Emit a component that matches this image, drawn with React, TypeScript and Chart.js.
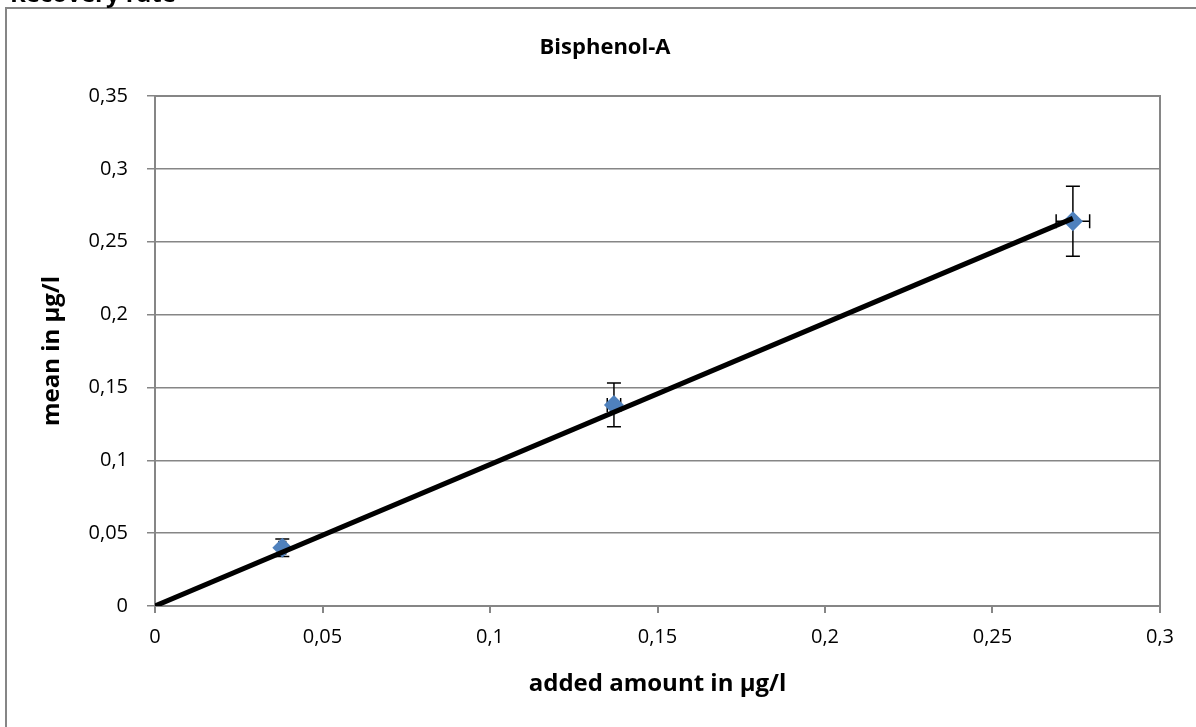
import React, { useEffect, useRef } from "react";
import { Chart, registerables } from "chart.js";

Chart.register(...registerables);

const chartTitle = "Bisphenol-A";
const pageTitle = "Recovery rate";
const xAxisTitle = "added amount in µg/l";
const yAxisTitle = "mean in µg/l";

const addedAmount = [0.038, 0.137, 0.274];
const meanValues = [0.040, 0.138, 0.264];
const yErrors = [0.006, 0.015, 0.024];
const xErrors = [0.001, 0.002, 0.005];

const trendX = [0, 0.274];
const trendY = [0, 0.266];

const xMin = 0;
const xMax = 0.3;
const yMin = 0;
const yMax = 0.35;
const tickStep = 0.05;

const FONT = "'Open Sans', Lato, sans-serif";

const fmt = (v: number) => {
  const r = Math.round(v * 1000) / 1000;
  return String(r).replace(".", ",");
};

export default function App() {
  const ref = useRef<HTMLCanvasElement | null>(null);

  useEffect(() => {
    if (!ref.current) return;

    const errorBars = {
      id: "errorBars",
      beforeDatasetsDraw(chart: any) {
        const { ctx, scales } = chart;
        const xs = scales.x;
        const ys = scales.y;
        ctx.save();
        ctx.strokeStyle = "#000";
        ctx.lineWidth = 1.5;
        const cap = 7;
        addedAmount.forEach((xv, i) => {
          const px = xs.getPixelForValue(xv);
          const py = ys.getPixelForValue(meanValues[i]);
          const y1 = ys.getPixelForValue(meanValues[i] + yErrors[i]);
          const y2 = ys.getPixelForValue(meanValues[i] - yErrors[i]);
          const x1 = xs.getPixelForValue(xv - xErrors[i]);
          const x2 = xs.getPixelForValue(xv + xErrors[i]);
          ctx.beginPath();
          ctx.moveTo(px, y1);
          ctx.lineTo(px, y2);
          ctx.moveTo(px - cap, y1);
          ctx.lineTo(px + cap, y1);
          ctx.moveTo(px - cap, y2);
          ctx.lineTo(px + cap, y2);
          ctx.moveTo(x1, py);
          ctx.lineTo(x2, py);
          ctx.moveTo(x1, py - cap);
          ctx.lineTo(x1, py + cap);
          ctx.moveTo(x2, py - cap);
          ctx.lineTo(x2, py + cap);
          ctx.stroke();
        });
        ctx.restore();
      },
    };

    const decorations = {
      id: "decorations",
      beforeDraw(chart: any) {
        const { ctx, width, height } = chart;
        ctx.save();
        ctx.fillStyle = "#fff";
        ctx.fillRect(0, 0, width, height);
        ctx.restore();
      },
      afterDraw(chart: any) {
        const { ctx } = chart;
        ctx.save();
        ctx.strokeStyle = "#868686";
        ctx.lineWidth = 2;
        ctx.beginPath();
        ctx.moveTo(6, 740);
        ctx.lineTo(6, 8);
        ctx.lineTo(1210, 8);
        ctx.stroke();
        const ca = chart.chartArea;
        ctx.beginPath();
        ctx.moveTo(ca.left, ca.top);
        ctx.lineTo(ca.right, ca.top);
        ctx.lineTo(ca.right, ca.bottom);
        ctx.stroke();
        ctx.fillStyle = "#000";
        ctx.font = "bold 24px " + FONT;
        ctx.textBaseline = "alphabetic";
        ctx.textAlign = "left";
        ctx.fillText(pageTitle, 10, 2);
        ctx.font = "bold 22px " + FONT;
        ctx.textAlign = "center";
        ctx.textBaseline = "middle";
        ctx.fillText(chartTitle, 605, 48);
        ctx.restore();
      },
    };

    const chart = new Chart(ref.current, {
      type: "scatter",
      data: {
        datasets: [
          {
            type: "scatter",
            label: "mean",
            data: addedAmount.map((x, i) => ({ x, y: meanValues[i] })),
            pointStyle: "rectRot",
            pointRadius: 10,
            pointHoverRadius: 10,
            backgroundColor: "#4F81BD",
            borderColor: "#4F81BD",
            borderWidth: 0,
            order: 2,
          },
          {
            type: "line",
            label: "trend",
            data: trendX.map((x, i) => ({ x, y: trendY[i] })),
            borderColor: "#000",
            borderWidth: 5,
            pointRadius: 0,
            showLine: true,
            fill: false,
            order: 1,
          },
        ],
      },
      options: {
        animation: false,
        responsive: false,
        events: [],
        layout: { padding: { top: 96, right: 36, left: 0, bottom: 0 } },
        plugins: {
          legend: { display: false },
          tooltip: { enabled: false },
          title: { display: false },
        },
        scales: {
          x: {
            type: "linear",
            min: xMin,
            max: xMax,
            ticks: {
              stepSize: tickStep,
              color: "#000",
              font: { family: FONT, size: 20 },
              padding: 12,
              callback: (v: any) => fmt(Number(v)),
            },
            grid: {
              display: true,
              drawOnChartArea: false,
              drawTicks: true,
              tickLength: 7,
              color: "#868686",
              lineWidth: 2,
            },
            border: { display: true, color: "#868686", width: 2 },
            title: {
              display: true,
              text: xAxisTitle,
              color: "#000",
              font: { family: FONT, size: 24, weight: "bold" },
              padding: { top: 0, bottom: 28 },
            },
            afterFit: (s: any) => {
              s.height = 121;
            },
          },
          y: {
            type: "linear",
            min: yMin,
            max: yMax,
            ticks: {
              stepSize: tickStep,
              color: "#000",
              font: { family: FONT, size: 20 },
              padding: 19,
              callback: (v: any) => fmt(Number(v)),
            },
            grid: {
              display: true,
              drawOnChartArea: true,
              drawTicks: true,
              tickLength: 8,
              color: "#868686",
              lineWidth: 1.5,
            },
            border: { display: true, color: "#868686", width: 2 },
            title: {
              display: true,
              text: yAxisTitle,
              color: "#000",
              font: { family: FONT, size: 24, weight: "bold" },
              padding: { top: 38, bottom: 0 },
            },
            afterFit: (s: any) => {
              s.width = 155;
            },
          },
        },
      },
      plugins: [decorations, errorBars],
    } as any);

    return () => chart.destroy();
  }, []);

  return (
    <div style={{ position: "fixed", left: 0, top: 0, width: 1196, height: 727 }}>
      <canvas ref={ref} width={1196} height={727} style={{ display: "block" }} />
    </div>
  );
}
